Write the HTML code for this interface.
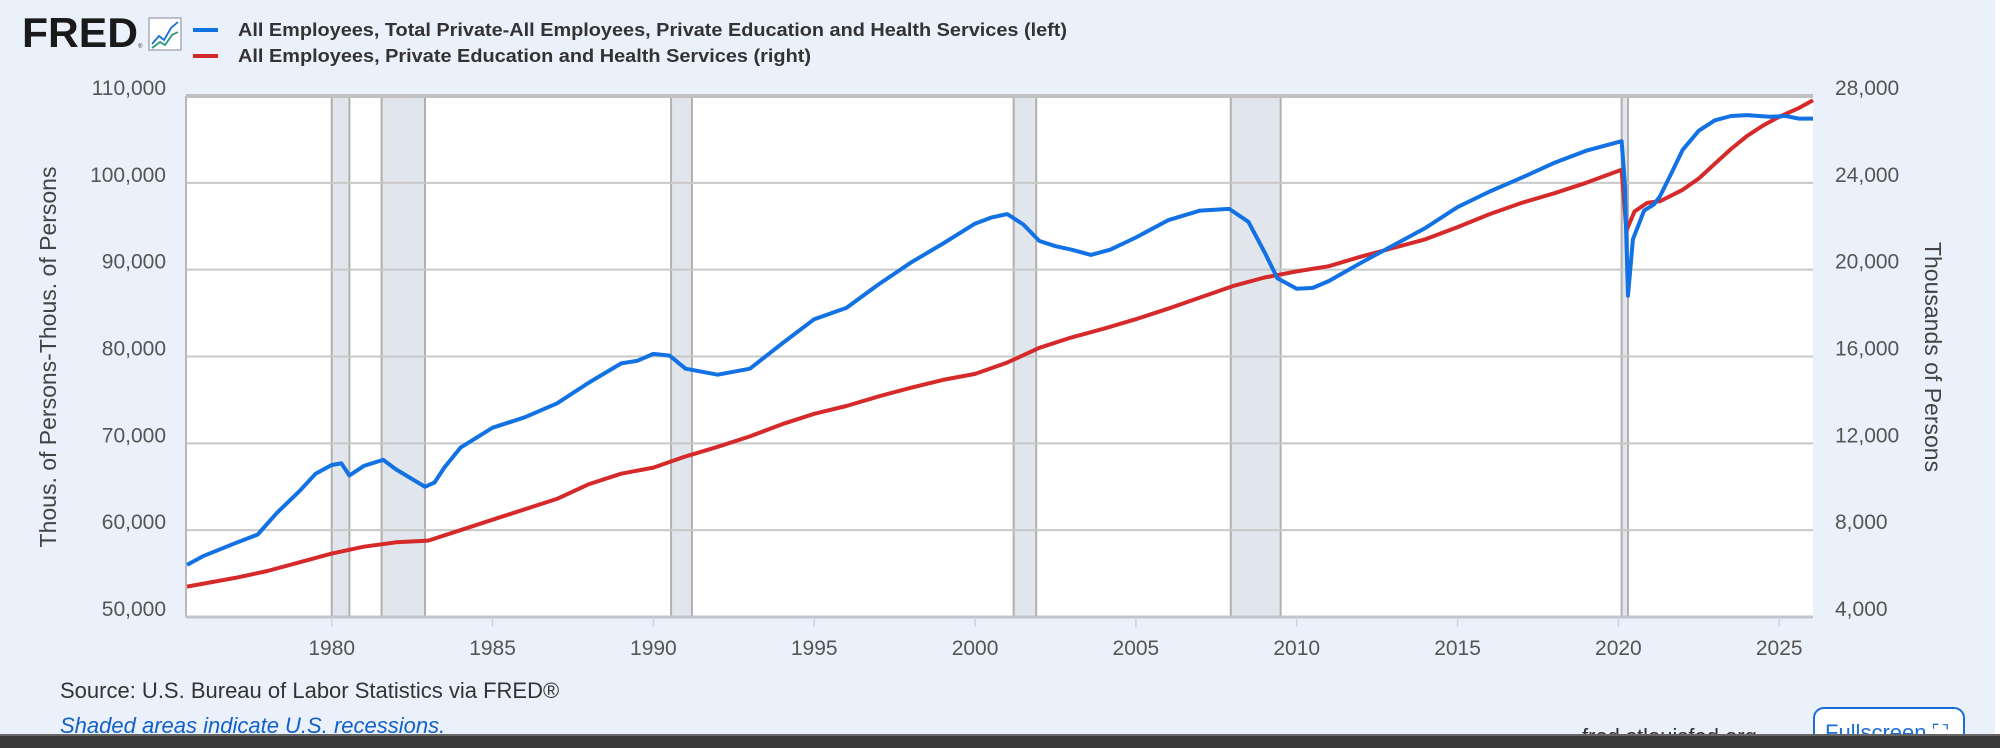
<!DOCTYPE html>
<html><head><meta charset="utf-8"><style>
html,body{margin:0;padding:0;width:2000px;height:748px;overflow:hidden;background:#fff}
svg{display:block}
text{font-family:"Liberation Sans",sans-serif}
</style></head><body>
<svg id="s" width="2000" height="748" xmlns="http://www.w3.org/2000/svg">
<rect x="0" y="0" width="1995" height="748" fill="#eaf1fa"/>
<rect x="186" y="96" width="1627" height="521" fill="#fff"/>
<g id="rec" fill="#e1e5ec" stroke="#b0b0b0" stroke-width="2"></g>
<g id="grid" stroke="#c8c8c8" stroke-width="2"></g>
<line x1="186" y1="96" x2="186" y2="617" stroke="#b8b8b8" stroke-width="2"/>
<line x1="186" y1="617" x2="1813" y2="617" stroke="#c0c4cc" stroke-width="3"/>
<line x1="186" y1="96" x2="1813" y2="96" stroke="#c0c0c0" stroke-width="4"/>
<g id="ticks"></g>
<path id="red" fill="none" stroke="#d62a2a" stroke-width="4" stroke-linejoin="round"/>
<path id="blue" fill="none" stroke="#1272e4" stroke-width="4" stroke-linejoin="round"/>
<text x="22" y="47" font-size="42" font-weight="bold" fill="#1a1a1a" textLength="116" lengthAdjust="spacingAndGlyphs">FRED</text>
<text x="138" y="48" font-size="6" fill="#333">®</text>
<rect x="149" y="18" width="32" height="32" fill="#fff" stroke="#aab" stroke-width="1.5"/>
<polyline points="152,44 159,36 164,40 171,28 178,22" fill="none" stroke="#1a6fd6" stroke-width="1.8"/>
<polyline points="152,48 160,42 165,45 172,35 178,32" fill="none" stroke="#2a9a7a" stroke-width="1.8"/>
<rect x="193" y="28" width="25" height="4" fill="#1272e4"/>
<rect x="193" y="54" width="25" height="4" fill="#d62a2a"/>
<text x="238" y="36" font-size="18" font-weight="bold" fill="#333" textLength="829" lengthAdjust="spacingAndGlyphs">All Employees, Total Private-All Employees, Private Education and Health Services (left)</text>
<text x="238" y="62" font-size="18" font-weight="bold" fill="#333" textLength="573" lengthAdjust="spacingAndGlyphs">All Employees, Private Education and Health Services (right)</text>
<text transform="translate(56,357) rotate(-90)" font-size="23" fill="#444" text-anchor="middle">Thous. of Persons-Thous. of Persons</text>
<text transform="translate(1925,357) rotate(90)" font-size="23" fill="#444" text-anchor="middle">Thousands of Persons</text>
<text x="60" y="698" font-size="22" fill="#333">Source: U.S. Bureau of Labor Statistics via FRED®</text>
<text x="60" y="733" font-size="22" fill="#1260c8" font-style="italic">Shaded areas indicate U.S. recessions.</text>
<text x="1582" y="744" font-size="22" fill="#333">fred.stlouisfed.org</text>
<rect x="1814" y="708" width="150" height="50" rx="10" fill="#fff" stroke="#1a6fd6" stroke-width="2"/>
<text x="1825" y="740" font-size="22" fill="#1a6fd6">Fullscreen ⛶</text>
<rect x="0" y="735" width="2000" height="13" fill="#3a3a3a"/>
<rect x="0" y="734" width="2000" height="2" fill="#666"/>
</svg>
<script>
var L=186,R=1813,T=96,B=617,x0=1975.47,x1=2026.05;
function X(y){return L+(y-x0)/(x1-x0)*(R-L)}
function Y(v){return B-(v-50000)/60000*(B-T)}
var ns="http://www.w3.org/2000/svg",s=document.getElementById('s');
function el(p,t,a,txt){var e=document.createElementNS(ns,t);for(var k in a)e.setAttribute(k,a[k]);if(txt)e.textContent=txt;p.appendChild(e);return e}
var rec=[[1980.0,1980.55],[1981.55,1982.9],[1990.55,1991.2],[2001.2,2001.9],[2007.95,2009.5],[2020.1,2020.3]];
rec.forEach(function(r){el(document.getElementById('rec'),'rect',{x:X(r[0]),y:T,width:X(r[1])-X(r[0]),height:B-T})});
var g=document.getElementById('grid'),tk=document.getElementById('ticks');
for(var i=0;i<6;i++){var v=60000+i*10000,y=Y(v);el(g,'line',{x1:L,x2:R,y1:y,y2:y});}
for(var i=0;i<7;i++){var v=50000+i*10000,y=Y(v);
el(tk,'text',{x:166,y:y-1,'font-size':21,fill:'#555','text-anchor':'end'},v.toLocaleString('en-US'));
el(tk,'text',{x:1835,y:y-1,'font-size':21,fill:'#555'},(4000+i*4000).toLocaleString('en-US'));}
for(var yr=1980;yr<=2025;yr+=5){var x=X(yr);el(tk,'line',{x1:x,x2:x,y1:B,y2:B+10,stroke:'#c8d4e8','stroke-width':1.5});
el(tk,'text',{x:x,y:B+38,'font-size':21,fill:'#555','text-anchor':'middle'},''+yr);}
var blue=[[1975.5,56000],[1976,57000],[1977,58500],[1977.7,59500],[1978.3,62000],[1979,64500],[1979.5,66500],[1980,67500],[1980.3,67700],[1980.55,66300],[1981,67400],[1981.6,68100],[1982,67000],[1982.9,65000],[1983.2,65500],[1983.5,67200],[1984,69500],[1985,71800],[1986,73000],[1987,74600],[1988,77000],[1989,79200],[1989.5,79500],[1990,80300],[1990.5,80100],[1991,78600],[1992,77900],[1993,78600],[1994,81500],[1995,84300],[1996,85600],[1997,88300],[1998,90800],[1999,93000],[2000,95300],[2000.5,96000],[2001,96400],[2001.5,95200],[2002,93300],[2002.5,92700],[2003,92300],[2003.6,91700],[2004.2,92300],[2005,93700],[2006,95700],[2007,96800],[2007.9,97000],[2008.5,95500],[2009,92000],[2009.4,89000],[2010,87800],[2010.5,87900],[2011,88700],[2012,90800],[2013,92800],[2014,94800],[2015,97200],[2016,99000],[2017,100600],[2018,102300],[2019,103700],[2020.1,104800],[2020.2,100000],[2020.3,87000],[2020.45,93500],[2020.8,96800],[2021.1,97500],[2021.3,98500],[2021.7,101500],[2022,103800],[2022.5,106000],[2023,107200],[2023.5,107700],[2024,107800],[2024.7,107600],[2025.2,107700],[2025.6,107400],[2026.05,107400]];
var red=[[1975.5,53500],[1977,54500],[1978,55300],[1979,56300],[1980,57300],[1981,58100],[1982,58600],[1983,58800],[1984,60000],[1985,61200],[1986,62400],[1987,63600],[1988,65300],[1989,66500],[1990,67200],[1991,68500],[1992,69600],[1993,70800],[1994,72200],[1995,73400],[1996,74300],[1997,75400],[1998,76400],[1999,77300],[2000,78000],[2001,79300],[2002,81000],[2003,82200],[2004,83200],[2005,84300],[2006,85500],[2007,86800],[2008,88100],[2009,89100],[2010,89800],[2011,90400],[2012,91500],[2013,92500],[2014,93500],[2015,94900],[2016,96400],[2017,97700],[2018,98800],[2019,100000],[2020.1,101500],[2020.25,94500],[2020.5,96700],[2020.9,97700],[2021.3,97900],[2022,99200],[2022.5,100500],[2023,102200],[2023.5,103900],[2024,105400],[2024.5,106600],[2025,107600],[2025.6,108600],[2026.05,109500]];
function path(a){return a.map(function(p,i){return (i?'L':'M')+X(p[0]).toFixed(1)+','+Y(p[1]).toFixed(1)}).join('')}
document.getElementById('blue').setAttribute('d',path(blue));
document.getElementById('red').setAttribute('d',path(red));
</script>
</body></html>
